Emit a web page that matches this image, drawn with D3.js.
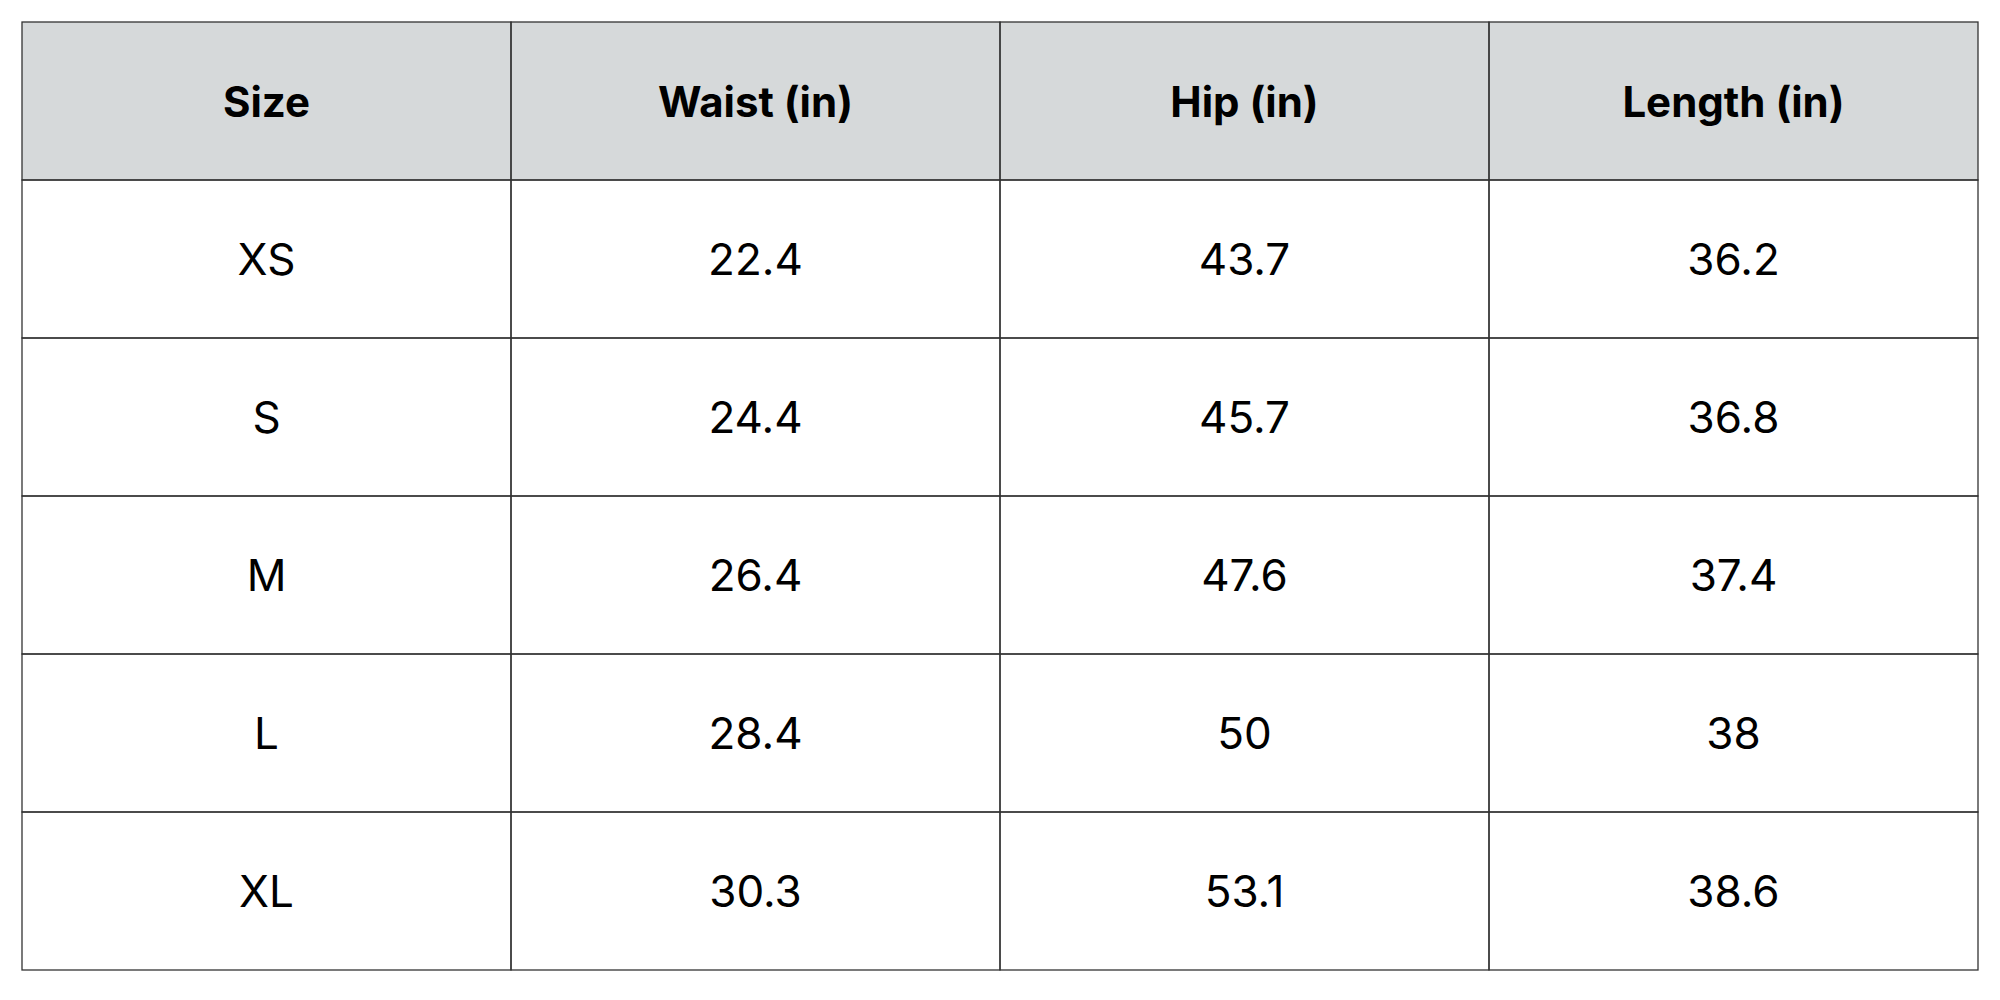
<!DOCTYPE html>
<html><head><meta charset="utf-8">
<script src="https://cdn.jsdelivr.net/npm/d3@7"></script>
<style>body{margin:0;background:#fff}</style></head>
<body><svg id="c" width="2000" height="1000"></svg>
<script>
const headers = ["Size","Waist (in)","Hip (in)","Length (in)"];
const sizes = ["XS","S","M","L","XL"];
const waist = ["22.4","24.4","26.4","28.4","30.3"];
const hip = ["43.7","45.7","47.6","50","53.1"];
const lengthIn = ["36.2","36.8","37.4","38","38.6"];

const rows = sizes.map((s,i)=>[s,waist[i],hip[i],lengthIn[i]]);
const svg = d3.select("#c");
const x0=22, x1=1978, y0=22, y1=970;
const x = d3.scaleBand().domain(d3.range(4)).range([x0,x1]);
const y = d3.scaleBand().domain(d3.range(6)).range([y0,y1]);
const font = "Inter, 'Noto Sans', sans-serif";

svg.append("rect").attr("x",x0).attr("y",y(0)).attr("width",x1-x0).attr("height",y.bandwidth()).attr("fill","#d6d9da");

const all = [headers, ...rows];
all.forEach((r,ri)=>{
  r.forEach((t,ci)=>{
    svg.append("rect").attr("x",x(ci)).attr("y",y(ri)).attr("width",x.bandwidth()).attr("height",y.bandwidth())
      .attr("fill","none").attr("stroke","#333").attr("stroke-width",1.3);
    svg.append("text").attr("x",x(ci)+x.bandwidth()/2).attr("y",y(ri)+y.bandwidth()/2)
      .attr("text-anchor","middle").attr("dominant-baseline","central")
      .attr("font-family",font).attr("font-size", ri===0?42:44)
      .attr("font-weight", ri===0?700:400).attr("fill","#000").text(t);
  });
});
</script></body></html>
